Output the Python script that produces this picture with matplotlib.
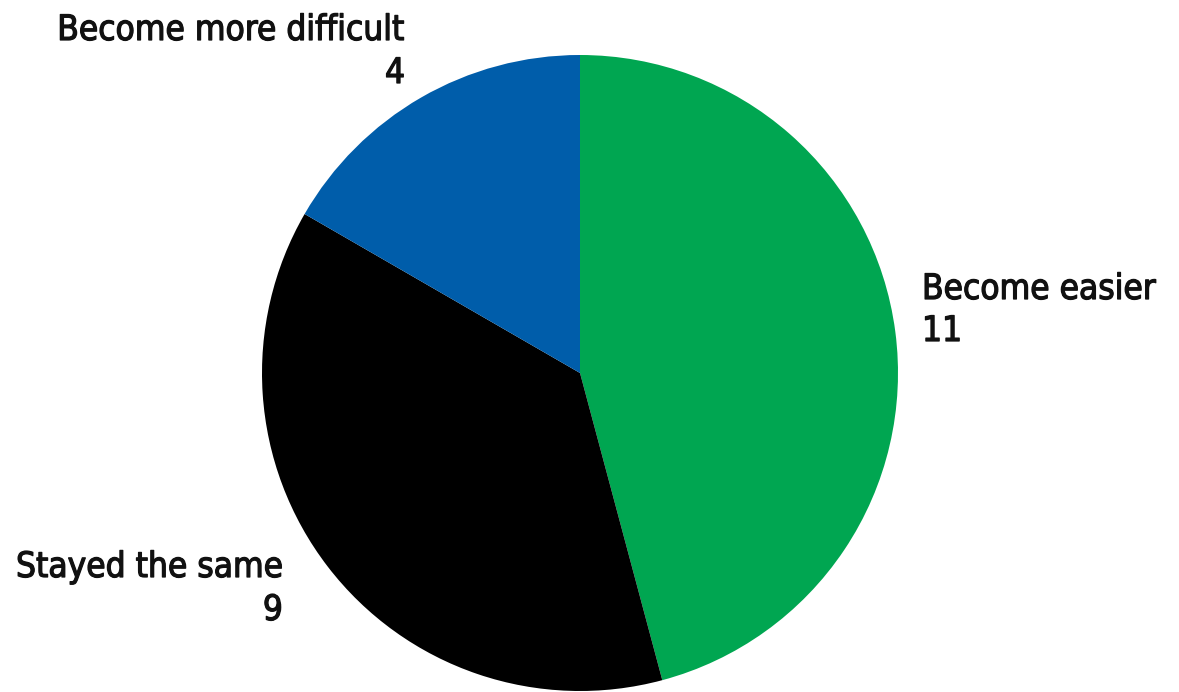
import matplotlib
matplotlib.use("Agg")
import matplotlib.pyplot as plt
from matplotlib import font_manager
import matplotlib.patheffects as pe

categories = ["Become easier", "Stayed the same", "Become more difficult"]
values = [11, 9, 4]
colors = ["#00A651", "#000000", "#005DAA"]

W, H = 1179, 692
fig = plt.figure(figsize=(W / 100, H / 100), dpi=100)

names = {f.name for f in font_manager.fontManager.ttflist}
if "Liberation Sans Narrow" in names:
    fam = ["Liberation Sans Narrow", "DejaVu Sans"]
    stretch = "normal"
else:
    fam = ["DejaVu Sans"]
    stretch = "condensed"

cx, cy, r = 580, 373, 318
ax = fig.add_axes([(cx - r) / W, (H - cy - r) / H, 2 * r / W, 2 * r / H])
ax.pie(values, colors=colors, startangle=90, counterclock=False,
       radius=1.0, wedgeprops=dict(linewidth=0))
ax.set_xlim(-1, 1)
ax.set_ylim(-1, 1)
ax.set_aspect("equal")
ax.axis("off")

fs = 25.2
def put(x, y, s, ha):
    fig.text(x / W, (H - y) / H, s, ha=ha, va="baseline", fontsize=fs,
             family=fam, fontstretch=stretch, color="#111111",
             path_effects=[pe.withStroke(linewidth=0.9, foreground="#111111")])

# (x, label baseline, number baseline, ha)
pos = [(922, 299, 341, "left"), (283, 577, 620, "right"), (405, 40, 83, "right")]
for (x, yb1, yb2, ha), c, v in zip(pos, categories, values):
    put(x, yb1, c, ha)
    put(x, yb2, str(v), ha)

fig.savefig("out.png", dpi=100)
